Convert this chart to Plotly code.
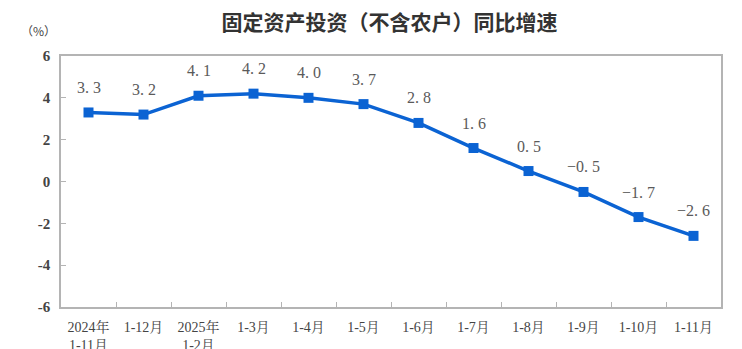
import plotly.graph_objects as go

# 固定资产投资（不含农户）累计同比增速
periods = ["2024年<br>1-11月", "1-12月", "2025年<br>1-2月", "1-3月", "1-4月", "1-5月",
           "1-6月", "1-7月", "1-8月", "1-9月", "1-10月", "1-11月"]
growth = [3.3, 3.2, 4.1, 4.2, 4.0, 3.7, 2.8, 1.6, 0.5, -0.5, -1.7, -2.6]
y_ticks = [-6, -4, -2, 0, 2, 4, 6]

LINE_BLUE = "#0b63d3"
AXIS_GREY = "#b4b4b4"
TEXT_GREY = "#444444"
SERIF = "Liberation Serif, 'Noto Serif CJK SC', 'Noto Sans CJK SC', serif"

fig = go.Figure()
fig.add_trace(go.Scatter(
    x=periods, y=growth, mode="lines+markers",
    line=dict(color=LINE_BLUE, width=3.5),
    marker=dict(symbol="square", size=10, color=LINE_BLUE),
    hoverinfo="skip", showlegend=False,
))

# value labels above each point
for p, v in zip(periods, growth):
    label = f"{v:.1f}".replace("-", "−").replace(".", ". ")
    fig.add_annotation(x=p, y=v, text=label, showarrow=False, yshift=25,
                       font=dict(family=SERIF, size=16, color="#5a5a5a"))

fig.add_annotation(xref="paper", yref="paper", x=-0.005, y=1.06, xanchor="right", yanchor="bottom",
                   text="（%）", showarrow=False,
                   font=dict(family="Noto Sans CJK SC", size=12, color=TEXT_GREY))

fig.update_layout(
    width=742, height=349,
    margin=dict(l=61, r=21, t=56, b=42, autoexpand=False),
    paper_bgcolor="white", plot_bgcolor="white",
    title=dict(text="<b>固定资产投资（不含农户）同比增速</b>", x=0.525, xanchor="center",
               y=0.935, yanchor="middle",
               font=dict(family="Noto Sans CJK SC", size=21, color="#333333")),
    xaxis=dict(type="category", categoryorder="array", categoryarray=periods,
               range=[-0.5, len(periods) - 0.5], automargin=False,
               showline=True, linecolor=AXIS_GREY, linewidth=1.5, mirror=True,
               ticks="inside", ticklen=5, tickcolor=AXIS_GREY, tickson="boundaries",
               showgrid=False, zeroline=False, ticklabelstandoff=6,
               tickfont=dict(family=SERIF, size=14, color=TEXT_GREY)),
    yaxis=dict(range=[-6, 6], tickvals=y_ticks, ticktext=[f"<b>{t}</b>" for t in y_ticks],
               automargin=False,
               showline=True, linecolor=AXIS_GREY, linewidth=1.5, mirror=True,
               ticks="inside", ticklen=5, tickcolor=AXIS_GREY,
               showgrid=False, zeroline=False, ticklabelstandoff=6,
               tickfont=dict(family=SERIF, size=15, color=TEXT_GREY)),
)

fig.write_html("out.html")
